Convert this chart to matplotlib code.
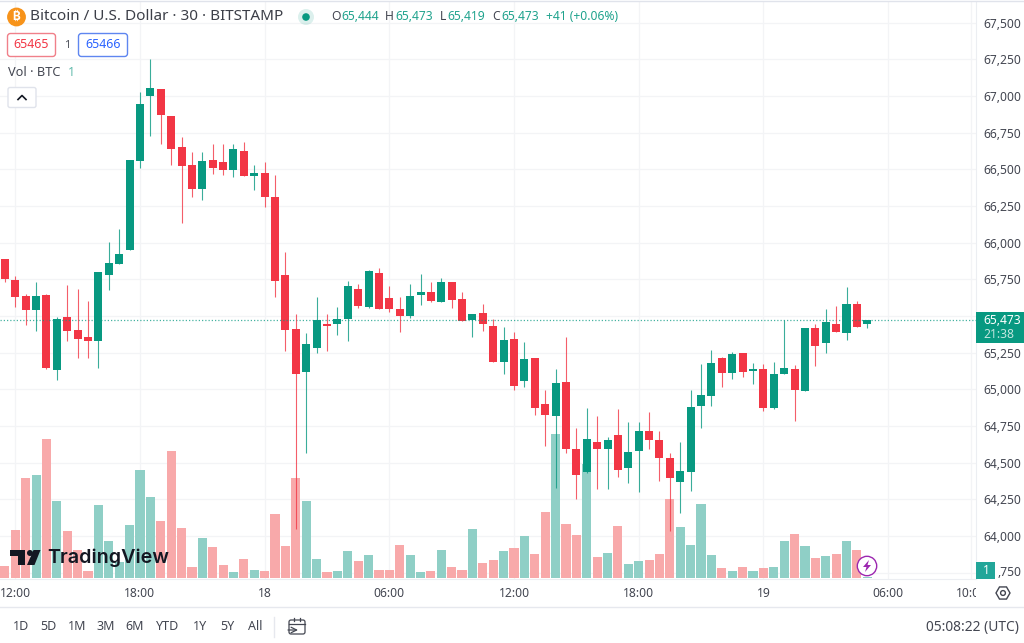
import matplotlib
matplotlib.use("Agg")
import matplotlib.pyplot as plt
import matplotlib.patches as patches
from matplotlib.transforms import Bbox
import numpy as np

plt.rcParams['font.family'] = ['Noto Sans', 'DejaVu Sans']

# 30 min candles, first one is the bar before 12:00
open_ = [65891, 65745, 65634, 65539, 65643, 65132, 65493, 65402, 65355, 65329, 65777, 65857, 65950, 66559,
         67000, 67050, 66862, 66655, 66528, 66368, 66564, 66548, 66496, 66623, 66457, 66473, 66314, 65782,
         65413, 65118, 65284, 65447, 65445, 65477, 65686, 65563, 65791, 65623, 65548, 65502, 65641, 65666,
         65597, 65734, 65616, 65473, 65520, 65430, 65186, 65343, 65057, 65213, 64900, 64816, 65048, 64591,
         64434, 64643, 64595, 64686, 64461, 64581, 64718, 64654, 64534, 64368, 64434, 64888, 64954, 65211,
         65111, 65246, 65125, 65136, 64870, 65104, 65138, 64988, 65420, 65314, 65445, 65384, 65584, 65444]
high = [65891, 65773, 65648, 65732, 65650, 65495, 65713, 65684, 65600, 65802, 66005, 66095, 66564, 67028,
        67253, 67050, 66862, 66719, 66620, 66618, 66675, 66671, 66671, 66685, 66530, 66552, 66462, 65936,
        65516, 65382, 65632, 65512, 65563, 65739, 65718, 65815, 65827, 65702, 65632, 65718, 65784, 65732,
        65759, 65734, 65662, 65512, 65582, 65481, 65427, 65393, 65325, 65213, 64995, 65138, 65359, 64734,
        64875, 64818, 64677, 64864, 64775, 64779, 64843, 64716, 64564, 64641, 64995, 65173, 65266, 65222,
        65256, 65246, 65177, 65171, 65186, 65471, 65164, 65420, 65443, 65550, 65568, 65700, 65600, 65473]
low = [65734, 65559, 65439, 65398, 65136, 65065, 65329, 65211, 65211, 65147, 65679, 65853, 65950, 66507,
       66730, 66675, 66530, 66134, 66314, 66291, 66470, 66464, 66446, 66457, 66357, 66243, 65632, 65261,
       64049, 64568, 65250, 65261, 65368, 65331, 65552, 65555, 65550, 65529, 65393, 65488, 65575, 65597,
       65593, 65557, 65464, 65355, 65400, 65186, 65106, 64997, 65016, 64827, 64615, 64329, 64564, 64250,
       64427, 64318, 64322, 64404, 64363, 64300, 64593, 64377, 64036, 64154, 64304, 64738, 64888, 65016,
       65072, 65082, 65038, 64854, 64864, 65104, 64784, 64988, 65157, 65250, 65393, 65336, 65427, 65419]
close = [65754, 65632, 65539, 65634, 65143, 65481, 65400, 65343, 65331, 65802, 65861, 65925, 66564, 66948,
         67053, 66869, 66639, 66525, 66366, 66559, 66511, 66496, 66641, 66457, 66473, 66314, 65741, 65406,
         65106, 65309, 65473, 65432, 65477, 65702, 65566, 65809, 65550, 65546, 65500, 65636, 65666, 65600,
         65734, 65607, 65464, 65512, 65445, 65186, 65334, 65025, 65205, 64872, 64827, 65041, 64591, 64416,
         64663, 64595, 64656, 64450, 64574, 64714, 64652, 64534, 64393, 64441, 64879, 64961, 65177, 65111,
         65241, 65120, 65138, 64875, 65104, 65143, 64997, 65420, 65295, 65459, 65393, 65584, 65427, 65473]
volume = [11.7, 47.7, 99.7, 102.3, 138.7, 76.3, 46.7, 27.7, 7, 72.3, 36.7, 16, 52.7, 107.3,
          80.7, 56.3, 126.7, 49.3, 10.7, 39.7, 30.7, 13, 5.7, 19, 8, 7, 63.3, 32,
          99.7, 76.7, 18.3, 5.7, 6.7, 27, 17, 22.7, 7.7, 8, 32.3, 22.7, 6, 6.7,
          28, 10.7, 8, 49, 14.7, 18, 26.7, 29.7, 41.7, 24, 65.3, 143.3, 53.3, 42.7,
          114, 21, 24.7, 51.7, 13.7, 16.3, 17.7, 23.3, 79, 50.3, 32.7, 73.3, 22.3, 9.7,
          6.7, 10.3, 6.7, 9.3, 10.3, 36.3, 43.3, 31.7, 19.7, 22, 23.3, 36.3, 27.7, 1]

price_ticks = [63750, 64000, 64250, 64500, 64750, 65000, 65250, 65500, 65750, 66000,
               66250, 66500, 66750, 67000, 67250, 67500]
# these two sit under the price and volume tags
hidden_labels = [63750, 65500]
time_ticks = [0, 12, 24, 36, 48, 60, 72, 84, 92]
time_labels = ["12:00", "18:00", "18", "06:00", "12:00", "18:00", "19", "06:00", "10:00"]
range_labels = ["1D", "5D", "1M", "3M", "6M", "YTD", "1Y", "5Y", "All"]
last_price = 65473

UP = "#089981"
DOWN = "#f23645"
TXT = "#434651"
GRID = "#f3f4f6"
W, H = 1024, 643

bars = np.arange(len(open_)) - 1
open_ = np.array(open_)
close = np.array(close)
colors = [UP if c >= o else DOWN for o, c in zip(open_, close)]
vol_colors = ["#8fcfc6" if c >= o else "#f8a9aa" for o, c in zip(open_, close)]

fig = plt.figure(figsize=(W / 100, H / 100), dpi=100, facecolor="white")
rect = [0, (H - 579) / H, 975.7 / W, 578 / H]

# grid and axis labels
ax = fig.add_axes(rect, zorder=1)
ax.set_xlim(-15.3 / 10.39, (975.7 - 15.3) / 10.39)
ax.set_ylim(65000 - (579 - 389.3) / 0.1466, 65000 + (389.3 - 1) / 0.1466)
ax.yaxis.tick_right()
ax.set_yticks(price_ticks)
ax.set_yticklabels(["" if p in hidden_labels else f"{p:,}" for p in price_ticks], color=TXT, fontsize=8.7)
ax.set_xticks(time_ticks)
ax.set_xticklabels(time_labels, color=TXT, fontsize=8.7)
ax.tick_params(length=0)
ax.tick_params(axis="y", pad=5.5)
ax.tick_params(axis="x", pad=6)
ax.grid(True, color=GRID, lw=0.9)
for s in ["top", "left"]:
    ax.spines[s].set_visible(False)
ax.spines["right"].set_color("#eceef2")
ax.spines["bottom"].set_color("#eceef2")
for lab in ax.get_xticklabels():
    if lab.get_text() in ("18", "19"):
        lab.set_fontweight("bold")
    if lab.get_text() == "10:00":
        lab.set_clip_box(Bbox([[0, 0], [975.7, H]]))
        lab.set_clip_on(True)

# volume pane
ax_vol = fig.add_axes(rect, zorder=2, sharex=ax)
ax_vol.set_ylim(-1.3, 576.7)
ax_vol.bar(bars, volume, width=0.88, color=vol_colors)
ax_vol.axis("off")

# candles
ax_c = fig.add_axes(rect, zorder=3, sharex=ax, sharey=ax)
ax_c.axis("off")
ax_c.axhline(last_price, color=UP, lw=0.9, ls=(0, (1, 1.6)), alpha=0.75)
ax_c.vlines(bars, low, high, colors=colors, lw=0.8, alpha=0.8)
ax_c.bar(bars, np.abs(close - open_), bottom=np.minimum(open_, close), width=0.77, color=colors)

# everything around the chart, in pixels
ov = fig.add_axes([0, 0, 1, 1], zorder=4)
ov.set_xlim(0, W)
ov.set_ylim(H, 0)
ov.axis("off")

ov.plot([0, W], [0.8, 0.8], color="#e0e3eb", lw=1)
ov.plot([0, W], [607, 607], color="#e6e8ee", lw=1)

# header
ov.add_patch(patches.Circle((16.5, 17), 8.7, color="#f7931a"))
ov.text(16.5, 17, "₿", color="white", fontsize=8.5, ha="center", va="center", fontweight="bold",
        family=["Inter", "Roboto", "Open Sans", "Noto Sans", "Lato"])
ov.text(30, 17, "Bitcoin / U.S. Dollar · 30 · BITSTAMP", color="#3c3f48", fontsize=11, va="center")
ov.add_patch(patches.Circle((306, 17), 8, color=UP, alpha=0.14, lw=0))
ov.add_patch(patches.Circle((306, 17), 3.8, color=UP, lw=0))
ohlc = [("O", 331, TXT), ("65,444", 341, UP), ("H", 385, TXT), ("65,473", 395, UP), ("L", 440, TXT),
        ("65,419", 447, UP), ("C", 492, TXT), ("65,473", 501, UP), ("+41 (+0.06%)", 546, UP)]
for s, x, c in ohlc:
    ov.text(x, 17, s, color=c, fontsize=8.7, va="center", alpha=0.9 if c == UP else 1)

# bid / ask
ov.add_patch(patches.FancyBboxPatch((7.5, 33.5), 48, 23, boxstyle="round,pad=0,rounding_size=3", fc="white", ec="#f0808a", lw=1))
ov.text(31.5, 45, "65465", color=DOWN, fontsize=8.9, ha="center", va="center")
ov.text(67, 45, "1", color=TXT, fontsize=8, ha="center", va="center")
ov.add_patch(patches.FancyBboxPatch((78.5, 33.5), 49, 23, boxstyle="round,pad=0,rounding_size=3", fc="white", ec="#5f86f0", lw=1))
ov.text(103, 45, "65466", color="#2962ff", fontsize=8.9, ha="center", va="center")

ov.text(8, 72.5, "Vol · BTC", color=TXT, fontsize=9.2, va="center")
ov.text(71, 72.5, "1", color="#5fb9aa", fontsize=9, ha="center", va="center")
ov.add_patch(patches.FancyBboxPatch((8, 87.5), 28, 20, boxstyle="round,pad=0,rounding_size=2", fc="white", ec="#e0e3eb", lw=1))
ov.plot([18, 22, 26], [99.5, 95.5, 99.5], color="#131722", lw=1.2)

# last price and volume tags
ov.add_patch(patches.Rectangle((975.7, 311.5), 48.3, 31, color=UP, lw=0))
ov.text(983, 320, "65,473", color="white", fontsize=8.7, va="center")
ov.text(983, 334, "21:38", color="#c3e6df", fontsize=8.7, va="center")
ov.add_patch(patches.Rectangle((975.7, 561.5), 19.5, 17, color="#22a699", lw=0))
ov.text(986, 570, "1", color="white", fontsize=8.7, ha="center", va="center")
ov.text(1021, 572.5, ",750", color=TXT, fontsize=8.7, ha="right", va="center")

# logo
ov.add_patch(patches.Polygon([(10, 550), (25, 550), (25, 565), (17.5, 565), (17.5, 556), (10, 556)], color="#131722", lw=0))
ov.add_patch(patches.Circle((30, 553), 3, color="#131722", lw=0))
ov.add_patch(patches.Polygon([(33.5, 550), (40.5, 550), (34.5, 565), (27, 565)], color="#131722", lw=0))
ov.text(47.5, 558, "TradingView", color="#131722", fontsize=14.2, fontweight="semibold", va="center", family="Inter")

# lightning badge
ov.add_patch(patches.Circle((867, 566), 9.7, fc="white", ec="#9c27b0", lw=1))
ov.add_patch(patches.Polygon([(869, 560), (863, 567), (866.5, 567), (865, 572), (871, 565), (867.5, 565)], color="#9c27b0", lw=0))

# settings hexagon
ang = np.deg2rad(np.arange(0, 360, 60))
ov.add_patch(patches.Polygon(np.c_[1003 + 7 * np.cos(ang), 593 + 7 * np.sin(ang)], fc="none", ec="#434651", lw=1))
ov.add_patch(patches.Circle((1003, 593), 2.4, fc="none", ec="#434651", lw=1))

# bottom toolbar
range_x = [21, 48, 77, 106, 135, 168, 200, 227, 255]
for s, x in zip(range_labels, range_x):
    ov.text(x, 627, s, color=TXT, fontsize=9, ha="center", va="center")
ov.plot([274, 274], [617, 637], color="#e6e8ee", lw=1)
ov.add_patch(patches.FancyBboxPatch((289, 620), 16, 14, boxstyle="round,pad=0,rounding_size=2", fc="none", ec=TXT, lw=0.9))
ov.plot([289, 305], [624, 624], color=TXT, lw=0.9)
ov.plot([294, 294], [618, 621], color=TXT, lw=0.9)
ov.plot([300, 300], [618, 621], color=TXT, lw=0.9)
ov.annotate("", xy=(298, 630), xytext=(288, 630), arrowprops=dict(arrowstyle="->", color=TXT, lw=0.9, shrinkA=0, shrinkB=0), annotation_clip=False)
ov.text(1019, 627, "05:08:22 (UTC)", color=TXT, fontsize=9.9, ha="right", va="center")

fig.savefig("out.png", dpi=100)
plt.close(fig)
